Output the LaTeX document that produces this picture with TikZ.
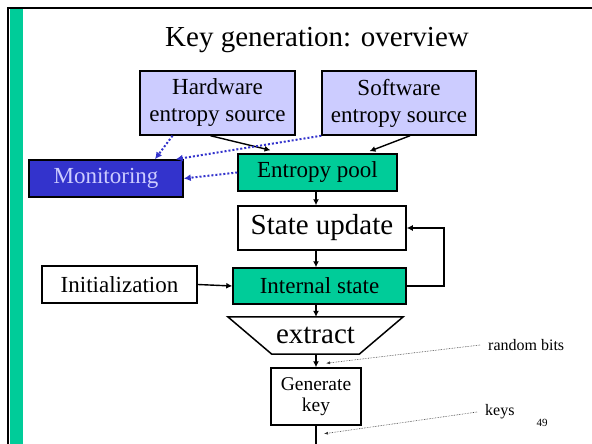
\documentclass[tikz,border=0pt]{standalone}
\usepackage{fontspec}
\setmainfont{Liberation Serif}
\usetikzlibrary{arrows.meta}
\definecolor{lav}{HTML}{CCCCFF}
\definecolor{seagrn}{HTML}{00CC99}
\definecolor{monblue}{HTML}{3333CC}

\begin{document}
\begin{tikzpicture}[x=1pt,y=-1pt
		,every node/.append style={inner sep=0pt, align=center}
		,box/.style={draw, line width=1.5pt}
		,mid/.style={font=\fontsize{23}{27}\selectfont}
		,big/.style={font=\fontsize{29}{33}\selectfont}
		,src/.style={box, mid, fill=lav, minimum width=155pt, minimum height=64pt}
		,grn/.style={box, mid, fill=seagrn, minimum height=37pt}
		,ar/.style={line width=1.4pt, -{Latex[length=6pt,width=6pt]}}
		,bdot/.style={monblue, line width=2pt, dash pattern=on 2pt off 2pt, -{Latex[length=7pt,width=7pt]}}
		,ann/.style={black!80, densely dotted, line width=.6pt, -{Latex[length=4pt,width=3pt]}}
	]
		\useasboundingbox (0,0) rectangle (592,444);
		\fill[seagrn] (10,9) rectangle (23,446);
		\draw[line width=2pt] (8,446) -- (8,8) -- (594,8);

		\node [big] (title) at (317,40) {Key generation: overview};
		\node [src] (hw) at (217.5,103) {Hardware\\entropy source};
		\node [src, minimum width=154pt] (sw) at (399,103) {Software\\entropy source};
		\node [grn, fill=monblue, text=lav, minimum width=154pt] (mon) at (106,178.5) {Monitoring};
		\node [grn, minimum width=159pt] (pool) at (317.5,172.5) {Entropy pool};
		\node [box, big, minimum width=168pt, minimum height=44pt] (upd) at (322,228) {State update};
		\node [grn, minimum width=173pt, minimum height=36pt] (ist) at (319.5,286) {Internal state};
		\node [box, mid, minimum width=155pt, minimum height=37pt] (init) at (119.5,284.5) {Initialization};
		\node [big, minimum width=175pt, minimum height=37pt] (ext) at (315.5,335.5) {extract};
		\draw [box] (ext.north west) -- (ext.north east) -- ([xshift=-44pt]ext.south east)
			-- ([xshift=44pt]ext.south west) -- cycle;
		\node [box, font=\fontsize{19.5}{21}\selectfont, minimum width=90pt, minimum height=57pt] (gen) at (316,396.5) {Generate\\key};
		\coordinate (bot) at (316,446);

		% sources into the pool, and what monitoring sees
		\draw [ar] ([xshift=-7pt]hw.south) -- ([xshift=-47pt,yshift=3pt]pool.north);
		\draw [ar] ([xshift=11pt]sw.south) -- ([xshift=52pt,yshift=2pt]pool.north);
		\draw [bdot] ([xshift=-45pt]hw.south) -- ([xshift=49pt]mon.north);
		\draw [bdot] (sw.south west) -- ([xshift=-8pt]mon.north east);
		\draw [bdot] (pool.west) -- (mon.east);

		% main chain
		\draw [ar] (pool.south -| gen) -- (upd.north -| gen);
		\draw [ar] (upd.south -| gen) -- (ist.north -| gen);
		\draw [ar] (ist.south -| gen) -- (ext.north -| gen);
		\draw [ar] (ext.south -| gen) -- (gen.north);
		\draw [line width=1.4pt] (gen.south) -- (bot);
		\draw [ar, line width=2pt] (ist.east) -- ++(37,0) |- (upd.east);
		\draw [ar] (init.east) -- (ist.west);

		% labels on the right
		\node [font=\fontsize{16}{18}\selectfont, anchor=west] (rb) at (488,345) {random bits};
		\node [font=\fontsize{16}{18}\selectfont, anchor=west] (ky) at (485,412) {keys};
		\node [font=\fontsize{11}{12}\selectfont] (pg) at (542,423) {49};
		\draw [ann] ([xshift=-8pt]rb.west) -- ([xshift=10pt,yshift=4pt]gen.north);
		\draw [ann] ([xshift=-8pt]ky.west) -- ([xshift=8pt,yshift=-8pt]gen.south);
	\end{tikzpicture}
\end{document}
